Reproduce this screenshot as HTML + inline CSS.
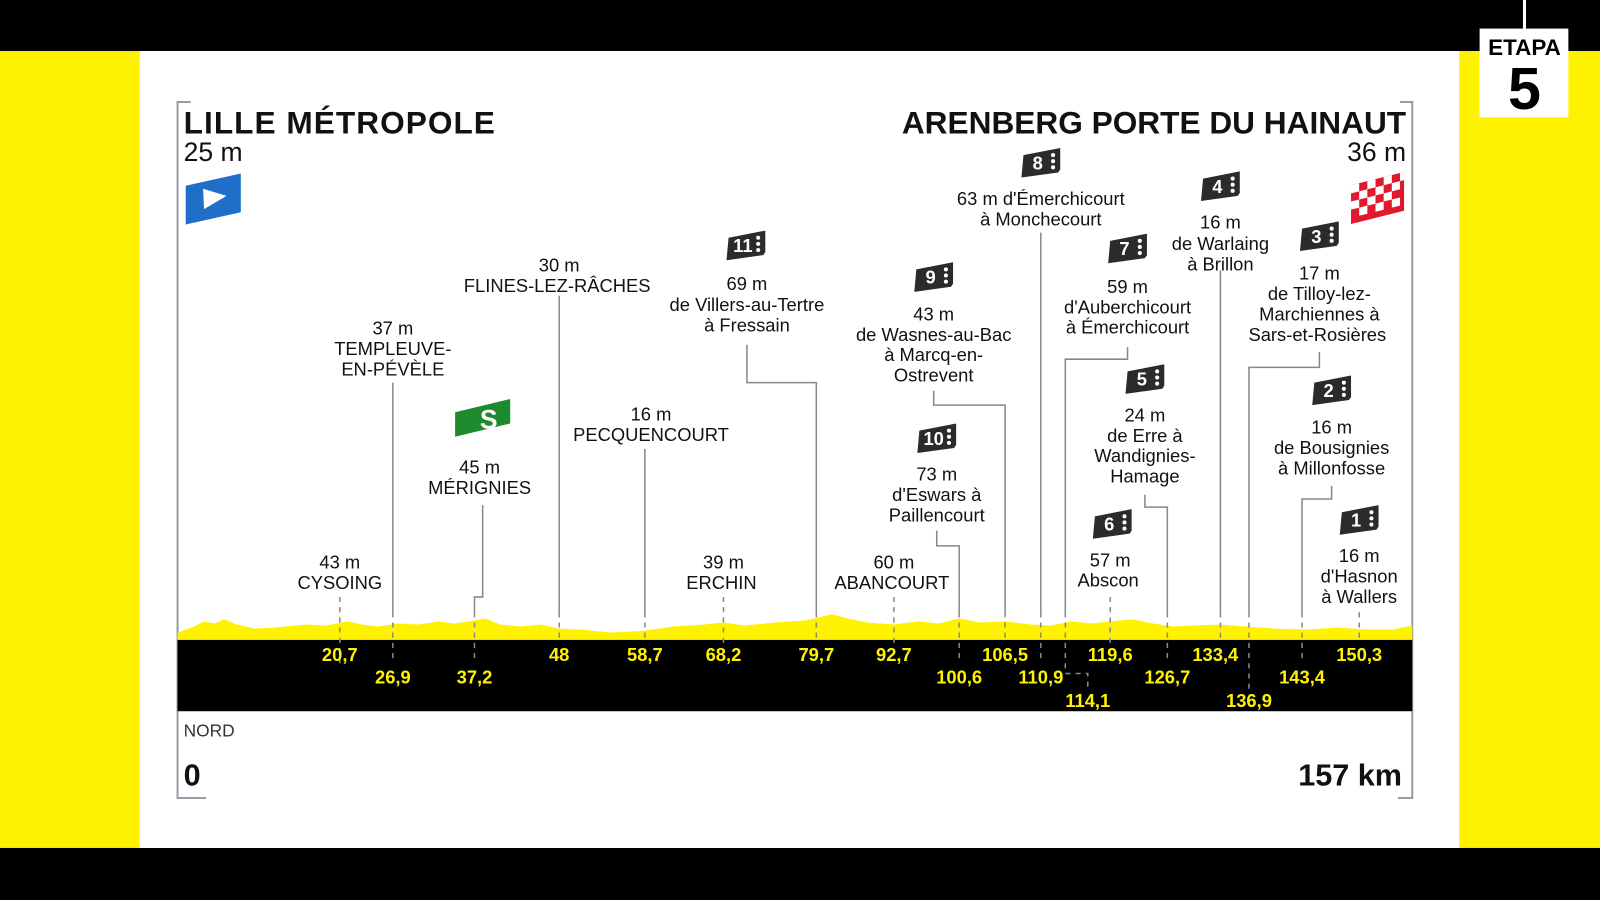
<!DOCTYPE html>
<html><head><meta charset="utf-8"><style>
html,body{margin:0;padding:0;background:#000;}
svg{display:block}
text{font-family:"Liberation Sans",sans-serif;}
</style></head><body>
<svg width="1600" height="900" viewBox="0 0 1568 882" xmlns="http://www.w3.org/2000/svg">
<defs>
<g id="ic">
<polygon points="-19,14 -17,-8 19,-15 19,6 17,9" fill="#2b2b2b"/>
<circle cx="12" cy="-8" r="2" fill="#fff"/><circle cx="12" cy="-2" r="2" fill="#fff"/><circle cx="12" cy="4" r="2" fill="#fff"/>
</g>
</defs>
<rect width="1568" height="882" fill="#000"/>
<rect x="0" y="50" width="1568" height="781" fill="#fff200"/>
<rect x="137" y="50" width="1293" height="781" fill="#fff"/>
<line x1="1494" y1="0" x2="1494" y2="28" stroke="#fff" stroke-width="3"/>
<rect x="1450" y="28" width="87" height="87" fill="#fff"/>
<text x="1494" y="54" font-size="22" font-weight="bold" text-anchor="middle" fill="#000">ETAPA</text>
<text x="1494" y="107" font-size="58" font-weight="bold" text-anchor="middle" fill="#000">5</text>
<g stroke="#9a9aa8" stroke-width="2" fill="none">
<path d="M187,100 H174 V782 H202"/>
<path d="M1372,100 H1384 V782 H1370"/>
</g>
<text x="180" y="131" font-size="31" font-weight="bold" fill="#111" textLength="305">LILLE MÉTROPOLE</text>
<text x="180" y="158" font-size="26" fill="#111">25 m</text>
<text x="1378" y="131" font-size="31" font-weight="bold" fill="#111" text-anchor="end">ARENBERG PORTE DU HAINAUT</text>
<text x="1378" y="158" font-size="26" fill="#111" text-anchor="end">36 m</text>
<polygon points="182,182 236,170 236,208 182,220" fill="#1f6fc9"/>
<polygon points="199,185 222,192 200,205" fill="#fff"/>
<g transform="translate(1350,195) skewY(-14)">
<rect x="-26" y="-20" width="52" height="38" fill="#e0192c"/>
<g fill="#fff">
<rect x="-26" y="-20" width="8" height="8"/><rect x="-10" y="-20" width="8" height="8"/><rect x="6" y="-20" width="8" height="8"/><rect x="22" y="-20" width="4" height="8"/>
<rect x="-18" y="-12" width="8" height="8"/><rect x="-2" y="-12" width="8" height="8"/><rect x="14" y="-12" width="8" height="8"/>
<rect x="-26" y="-4" width="8" height="8"/><rect x="-10" y="-4" width="8" height="8"/><rect x="6" y="-4" width="8" height="8"/>
<rect x="-18" y="4" width="8" height="8"/><rect x="-2" y="4" width="8" height="8"/><rect x="14" y="4" width="8" height="8"/>
</g></g>
<g transform="translate(473,415)">
<polygon points="-27,13 -27,-11 27,-24 27,0" fill="#1e8a2e"/>
<text x="6" y="5" font-size="26" font-weight="bold" fill="#fff" text-anchor="middle">S</text>
</g>
<rect x="174" y="627" width="1210" height="70" fill="#000"/>
<path fill="#fff200" d="M174,627 L174,620 L190,614 L200,609 L210,611 L220,607 L232,612 L250,616 L270,615 L300,612 L320,613 L340,609 L355,612 L370,614 L390,611 L410,612 L430,609 L445,611 L460,609 L475,606 L490,612 L510,614 L530,612 L548,616 L570,617 L600,620 L632,618 L660,614 L690,612 L709,610 L730,613 L760,610 L790,608 L815,602 L830,606 L850,610 L876,612 L900,609 L920,611 L940,606 L960,610 L985,609 L1010,612 L1030,613 L1050,609 L1070,611 L1088,609 L1110,607 L1130,611 L1150,614 L1170,613 L1196,612 L1220,614 L1250,616 L1280,617 L1310,615 L1340,617 L1365,617 L1384,613 L1384,627 Z"/>
<g stroke="#888" stroke-width="1.5" fill="none">
<path d="M385,375 V600"/><path d="M473,495 V585 H465 V600"/>
<path d="M548,290 V600"/><path d="M632,440 V600"/>
<path d="M732,338 V375 H800 V600"/>
<path d="M915,383 V397 H985 V600"/>
<path d="M918,520 V535 H940 V600"/>
<path d="M1020,228 V600"/>
<path d="M1105,340 V352 H1044 V600"/>
<path d="M1122,485 V497 H1144 V600"/>
<path d="M1196,265 V600"/>
<path d="M1293,345 V360 H1224 V600"/>
<path d="M1305,476 V489 H1276 V600"/>
</g>
<g stroke="#888" stroke-width="1.5" stroke-dasharray="5,5" fill="none">
<path d="M333,585 V650"/><path d="M385,600 V650"/><path d="M465,600 V650"/><path d="M548,600 V630"/><path d="M632,600 V630"/><path d="M709,585 V630"/><path d="M800,600 V630"/><path d="M876,585 V630"/><path d="M940,600 V650"/><path d="M985,600 V630"/><path d="M1020,600 V650"/><path d="M1044,600 V660 H1066 V674"/><path d="M1088,585 V630"/><path d="M1144,600 V650"/><path d="M1196,600 V630"/><path d="M1224,600 V675"/><path d="M1276,600 V650"/><path d="M1332,600 V630"/>
</g>
<g font-size="18" font-weight="bold" fill="#fff200" text-anchor="middle">
<text x="333" y="648">20,7</text><text x="548" y="648">48</text><text x="632" y="648">58,7</text><text x="709" y="648">68,2</text><text x="800" y="648">79,7</text><text x="876" y="648">92,7</text><text x="985" y="648">106,5</text><text x="1088" y="648">119,6</text><text x="1191" y="648">133,4</text><text x="1332" y="648">150,3</text>
<text x="385" y="670">26,9</text><text x="465" y="670">37,2</text><text x="940" y="670">100,6</text><text x="1020" y="670">110,9</text><text x="1144" y="670">126,7</text><text x="1276" y="670">143,4</text>
<text x="1066" y="693">114,1</text><text x="1224" y="693">136,9</text>
</g>
<text x="180" y="722" font-size="17" fill="#333">NORD</text>
<text x="180" y="770" font-size="30" font-weight="bold" fill="#111">0</text>
<text x="1374" y="770" font-size="30" font-weight="bold" fill="#111" text-anchor="end">157 km</text>
<g font-size="18" font-weight="bold" fill="#fff" text-anchor="middle">
<g transform="translate(1020,160)"><use href="#ic"/><text x="-3" y="6">8</text></g>
<g transform="translate(1196,183)"><use href="#ic"/><text x="-3" y="6">4</text></g>
<g transform="translate(1105,244)"><use href="#ic"/><text x="-3" y="6">7</text></g>
<g transform="translate(915,272)"><use href="#ic"/><text x="-3" y="6">9</text></g>
<g transform="translate(731,241)"><use href="#ic"/><text x="-3" y="6">11</text></g>
<g transform="translate(1293,232)"><use href="#ic"/><text x="-3" y="6">3</text></g>
<g transform="translate(1122,372)"><use href="#ic"/><text x="-3" y="6">5</text></g>
<g transform="translate(1305,383)"><use href="#ic"/><text x="-3" y="6">2</text></g>
<g transform="translate(918,430)"><use href="#ic"/><text x="-3" y="6">10</text></g>
<g transform="translate(1090,514)"><use href="#ic"/><text x="-3" y="6">6</text></g>
<g transform="translate(1332,510)"><use href="#ic"/><text x="-3" y="6">1</text></g>
</g>
<g font-size="18" fill="#111" text-anchor="middle">
<text x="333" y="557">43 m</text><text x="333" y="577">CYSOING</text>
<text x="385" y="328">37 m</text><text x="385" y="348">TEMPLEUVE-</text><text x="385" y="368">EN-PÉVÈLE</text>
<text x="470" y="464">45 m</text><text x="470" y="484">MÉRIGNIES</text>
<text x="548" y="266">30 m</text><text x="546" y="286">FLINES-LEZ-RÂCHES</text>
<text x="638" y="412">16 m</text><text x="638" y="432">PECQUENCOURT</text>
<text x="709" y="557">39 m</text><text x="707" y="577">ERCHIN</text>
<text x="732" y="284">69 m</text><text x="732" y="305">de Villers-au-Tertre</text><text x="732" y="325">à Fressain</text>
<text x="876" y="557">60 m</text><text x="874" y="577">ABANCOURT</text>
<text x="915" y="314">43 m</text><text x="915" y="334">de Wasnes-au-Bac</text><text x="915" y="354">à Marcq-en-</text><text x="915" y="374">Ostrevent</text>
<text x="918" y="471">73 m</text><text x="918" y="491">d'Eswars à</text><text x="918" y="511">Paillencourt</text>
<text x="1020" y="201">63 m d'Émerchicourt</text><text x="1020" y="221">à Monchecourt</text>
<text x="1105" y="287">59 m</text><text x="1105" y="307">d'Auberchicourt</text><text x="1105" y="327">à Émerchicourt</text>
<text x="1122" y="413">24 m</text><text x="1122" y="433">de Erre à</text><text x="1122" y="453">Wandignies-</text><text x="1122" y="473">Hamage</text>
<text x="1088" y="555">57 m</text><text x="1086" y="575">Abscon</text>
<text x="1196" y="224">16 m</text><text x="1196" y="245">de Warlaing</text><text x="1196" y="265">à Brillon</text>
<text x="1293" y="274">17 m</text><text x="1293" y="294">de Tilloy-lez-</text><text x="1293" y="314">Marchiennes à</text><text x="1291" y="334">Sars-et-Rosières</text>
<text x="1305" y="425">16 m</text><text x="1305" y="445">de Bousignies</text><text x="1305" y="465">à Millonfosse</text>
<text x="1332" y="551">16 m</text><text x="1332" y="571">d'Hasnon</text><text x="1332" y="591">à Wallers</text>
</g>
</svg>
</body></html>
